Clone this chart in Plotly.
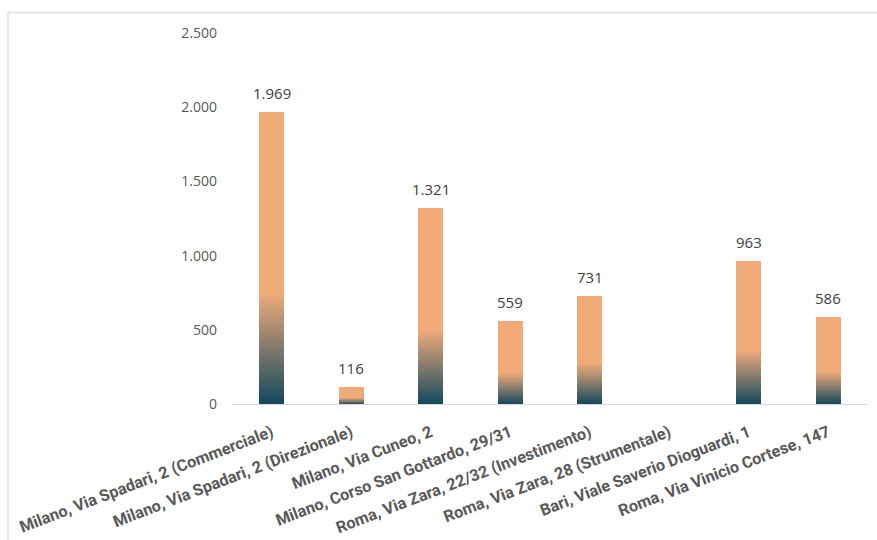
import plotly.graph_objects as go

# Valore per immobile (migliaia di euro)
immobili = [
    "Milano, Via Spadari, 2 (Commerciale)",
    "Milano, Via Spadari, 2 (Direzionale)",
    "Milano, Via Cuneo, 2",
    "Milano, Corso San Gottardo, 29/31",
    "Roma, Via Zara, 22/32 (Investimento)",
    "Roma, Via Zara, 28 (Strumentale)",
    "Bari, Viale Saverio Dioguardi, 1",
    "Roma, Via Vinicio Cortese, 147",
]
valori = [1969, 116, 1321, 559, 731, 0, 963, 586]
tick_valori = [0, 500, 1000, 1500, 2000, 2500]

# Gradient: teal at the base blending into orange over the lower part of each bar
TEAL = (18, 72, 94)
ORANGE = (240, 171, 121)
GRAD_FRAC = 0.38
N_STEPS = 40


def mix(a, b, t):
    return "rgb(%d,%d,%d)" % tuple(round(a[i] + (b[i] - a[i]) * t) for i in range(3))


fig = go.Figure()
for k in range(N_STEPS):
    t = (k + 0.5) / N_STEPS
    fig.add_trace(go.Bar(
        x=immobili,
        y=[v * GRAD_FRAC / N_STEPS for v in valori],
        marker=dict(color=mix(TEAL, ORANGE, t), line=dict(width=0)),
        showlegend=False, hoverinfo="skip",
    ))
fig.add_trace(go.Bar(
    x=immobili,
    y=[v * (1 - GRAD_FRAC) for v in valori],
    marker=dict(color=mix(TEAL, ORANGE, 1), line=dict(width=0)),
    showlegend=False, hoverinfo="skip",
))

# Data labels above the bars
etichette = [
    dict(x=c, y=v, text="{:,}".format(v).replace(",", "."),
         showarrow=False, yanchor="bottom", yshift=7,
         font=dict(family="Open Sans", size=15, color="#404040"))
    for c, v in zip(immobili, valori) if v
]

L, R, T, B = 232, 9, 33, 136
W, H = 877, 540
pw, ph = W - L - R, H - T - B

fig.update_layout(
    width=W, height=H,
    margin=dict(l=L, r=R, t=T, b=B, pad=0),
    barmode="stack",
    bargap=0.69,
    separators=",.",
    plot_bgcolor="white",
    paper_bgcolor="white",
    annotations=etichette,
    xaxis=dict(
        tickangle=-21,
        tickfont=dict(family="Roboto", size=16.2, color="#595959", weight="bold"),
        showline=True, linecolor="#d9d9d9", linewidth=1,
        showgrid=False, ticks="", zeroline=False,
        ticklabelstandoff=12, automargin=False,
    ),
    yaxis=dict(
        range=[0, 2500],
        tickvals=tick_valori,
        tickformat=",d",
        tickfont=dict(family="Open Sans", size=14, color="#595959"),
        showgrid=False, zeroline=False, showline=False, ticks="",
        ticklabelstandoff=14, automargin=False,
    ),
    shapes=[
        dict(type="line", xref="paper", yref="paper",
             x0=(8 - L) / pw, x1=(W - L) / pw,
             y0=(H - B - 12.5) / ph, y1=(H - B - 12.5) / ph,
             line=dict(color="#e6e6e6", width=2)),
        dict(type="line", xref="paper", yref="paper",
             x0=(8 - L) / pw, x1=(8 - L) / pw,
             y0=(H - B - 12.5) / ph, y1=-B / ph,
             line=dict(color="#e6e6e6", width=2)),
    ],
)

fig.write_html("out.html")
